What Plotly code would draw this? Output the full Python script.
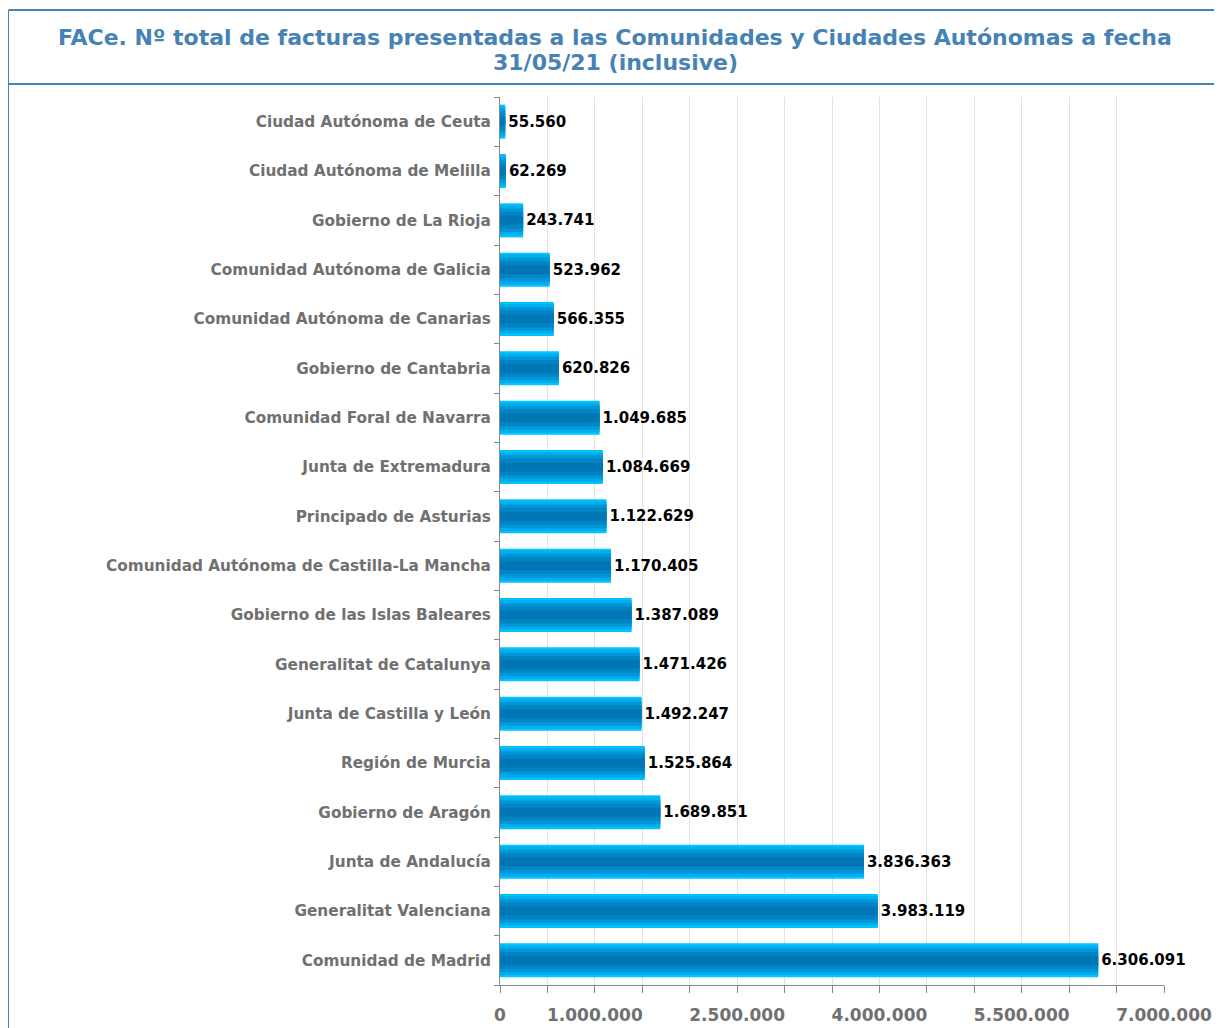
import plotly.graph_objects as go

categories = [
    "Comunidad de Madrid", "Generalitat Valenciana", "Junta de Andalucía",
    "Gobierno de Aragón", "Región de Murcia", "Junta de Castilla y León",
    "Generalitat de Catalunya", "Gobierno de las Islas Baleares",
    "Comunidad Autónoma de Castilla-La Mancha", "Principado de Asturias",
    "Junta de Extremadura", "Comunidad Foral de Navarra", "Gobierno de Cantabria",
    "Comunidad Autónoma de Canarias", "Comunidad Autónoma de Galicia",
    "Gobierno de La Rioja", "Ciudad Autónoma de Melilla", "Ciudad Autónoma de Ceuta",
]
values = [6306091, 3983119, 3836363, 1689851, 1525864, 1492247, 1471426, 1387089,
          1170405, 1122629, 1084669, 1049685, 620826, 566355, 523962, 243741,
          62269, 55560]
tick_vals = [i * 500000 for i in range(15)]
tick_text = ["0", "", "1.000.000", "", "", "2.500.000", "", "", "4.000.000", "",
             "", "5.500.000", "", "", "7.000.000"]
title_lines = [
    "FACe. Nº total de facturas presentadas a las Comunidades y Ciudades Autónomas a fecha",
    "31/05/21 (inclusive)",
]

OFF = 8  # page body margin
W, H = 1222 - OFF, 1028 - OFF
ML, MT = 500 - OFF, 97 - OFF
MR = W - (1164 - OFF)
MB = H - (985 - OFF)
pw, ph = W - ML - MR, H - MT - MB

fig = go.Figure()
layers = [(0.69, "#00C4FF"), (0.60, "#00AEEE"), (0.48, "#0096D8"),
          (0.34, "#0084C4"), (0.18, "#0077B4")]
for i, (wd, col) in enumerate(layers):
    fig.add_trace(go.Bar(
        y=categories, x=values, orientation="h", width=wd,
        marker=dict(color=col, line=dict(width=0)),
        text=[f"{v:,}".replace(",", ".") for v in values] if i == 0 else None,
        textposition="outside" if i == 0 else "none",
        textfont=dict(family="DejaVu Sans", size=15, color="#000000", weight="bold"),
        cliponaxis=False, hoverinfo="skip", showlegend=False,
    ))

def px_x(p):
    return (p - OFF - ML) / pw

def px_y(p):
    return 1 - (p - OFF - MT) / ph

shapes = [
    dict(type="line", xref="paper", yref="paper", x0=px_x(8.5), x1=px_x(1240),
         y0=px_y(10), y1=px_y(10), line=dict(color="#4682B4", width=2)),
    dict(type="line", xref="paper", yref="paper", x0=px_x(8.5), x1=px_x(1240),
         y0=px_y(84), y1=px_y(84), line=dict(color="#4682B4", width=2)),
    dict(type="line", xref="paper", yref="paper", x0=px_x(8.5), x1=px_x(8.5),
         y0=px_y(10), y1=px_y(1040), line=dict(color="#4682B4", width=1)),
]

annotations = [
    dict(text=t, xref="paper", yref="paper", x=px_x(615), y=px_y(yc),
         xanchor="center", yanchor="middle", showarrow=False,
         font=dict(family="DejaVu Sans", size=22, color="#4682B4", weight="bold"))
    for t, yc in zip(title_lines, [37, 62])
]

fig.update_layout(
    width=W, height=H,
    margin=dict(l=ML, r=MR, t=MT, b=MB, pad=0, autoexpand=False),
    barmode="overlay",
    plot_bgcolor="white", paper_bgcolor="white",
    font=dict(family="DejaVu Sans"),
    annotations=annotations,
    xaxis=dict(
        range=[0, 7000000], tickvals=tick_vals, ticktext=tick_text,
        showgrid=True, gridcolor="#E3E3E3", gridwidth=1, zeroline=False,
        showline=True, linecolor="#888888", linewidth=1,
        ticks="outside", ticklen=7, tickcolor="#888888",
        tickfont=dict(family="DejaVu Sans", size=17, color="#707070", weight="bold"),
        ticklabelstandoff=8, automargin=False,
    ),
    yaxis=dict(
        categoryorder="array", categoryarray=categories,
        showgrid=False, zeroline=False,
        showline=True, linecolor="#888888", linewidth=1,
        ticks="outside", tickson="boundaries", ticklen=5, tickcolor="#888888",
        tickfont=dict(family="DejaVu Sans", size=15.3, color="#707070", weight="bold"),
        ticklabelstandoff=5, automargin=False,
    ),
    shapes=shapes,
)

fig.write_html("out.html")
